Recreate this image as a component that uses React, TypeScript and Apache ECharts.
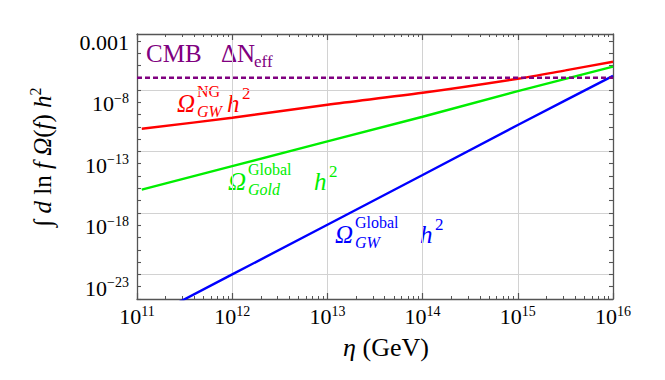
import React, { useEffect, useRef } from "react";
import * as echarts from "echarts";

const FONT = '"Liberation Serif", "Times New Roman", serif';

// axis ranges, in log10 units
const xRange = [11, 16]; // log10(eta / GeV)
const yRange = [-24, -2.45]; // log10(integral of Omega h^2)

const xMajorTicks = [11, 12, 13, 14, 15, 16];
const xMinorMultipliers = [2, 3, 4, 5, 6, 7, 8, 9];
const xGridValues = [12, 13, 14, 15];
const yLabelValues = [-23, -18, -13, -8, -3];
const yTickValues = [-24, -23, -22, -21, -20, -19, -18, -17, -16, -15, -14, -13, -12, -11, -10, -9, -8, -7, -6, -5, -4, -3];
const yGridValues = [-22, -17, -12, -7];

// curves (log10 values)
const logEta = [11.05, 12, 13, 14, 15, 15.5, 16];
const omegaNG = [-10.15, -9.26, -8.2, -7.23, -6.09, -5.41, -4.71];
const omegaGoldGlobal = [-15.11, -13.2, -11.18, -9.18, -7.1, -6.1, -5.11];
const omegaGWGlobal = [-25.84, -22.0, -17.96, -13.92, -9.85, -7.85, -5.85];
const cmbLogEta = [11, 16];
const cmbBound = [-6.0, -6.0];

const RED = "#ff0000";
const GREEN = "#00ee00";
const BLUE = "#0000ff";
const PURPLE = "#800080";
const FRAME = "#555555";
const GRID = "#d2d2d2";

const xMinorTicks: number[] = [];
for (let d = xRange[0]; d < xRange[1]; d++) {
  for (const m of xMinorMultipliers) xMinorTicks.push(d + Math.log10(m));
}

const zip = (xs: number[], ys: number[]) => xs.map((x, i) => [x, ys[i]]);

const tickRich = {
  b: { fontSize: 22, fontFamily: FONT, color: "#000", lineHeight: 22, padding: [3, 0, 0, 0] },
  s: { fontSize: 14, fontFamily: FONT, color: "#000", lineHeight: 14, verticalAlign: "top" },
};

function txt(text: string, x: number, baseline: number, size: number, color: string, italic = false) {
  return {
    type: "text",
    x,
    y: baseline - 0.34 * size,
    silent: true,
    style: {
      text,
      fill: color,
      fontSize: size,
      fontFamily: FONT,
      fontStyle: italic ? "italic" : "normal",
      lineHeight: size,
      align: "left",
      verticalAlign: "middle",
    },
  };
}

function omegaLabel(
  x: number, B: number, sup: string, sub: string, scriptX: number, hX: number, color: string
) {
  return [
    txt("Ω", x, B, 25, color, true),
    txt(sup, scriptX, B - 15, 16, color),
    txt(sub, scriptX, B + 5, 16, color, true),
    txt("h", hX, B, 25, color, true),
    txt("2", hX + 15, B - 13, 17, color),
  ];
}

function xAxisBase(position: string) {
  return {
    type: "value",
    min: xRange[0],
    max: xRange[1],
    position,
    axisLine: { show: false },
    axisTick: { show: false },
    axisLabel: { show: false },
    splitLine: { show: false },
  };
}

function yAxisBase(position: string) {
  return {
    type: "value",
    min: yRange[0],
    max: yRange[1],
    position,
    axisLine: { show: false },
    axisTick: { show: false },
    axisLabel: { show: false },
    splitLine: { show: false },
  };
}

export default function App() {
  const ref = useRef<HTMLDivElement>(null);
  useEffect(() => {
    if (!ref.current) return;
    const chart = echarts.init(ref.current, null, { renderer: "svg" });
    const frameLine = { show: true, lineStyle: { color: FRAME, width: 1.3 } };
    const option: any = {
      animation: false,
      grid: { left: 137, right: 52, top: 34, bottom: 81, containLabel: false },
      xAxis: [
        {
          ...xAxisBase("bottom"),
          axisLine: frameLine,
          axisTick: { show: true, inside: true, length: 6, customValues: xMajorTicks, lineStyle: { color: FRAME, width: 1.2 } },
          axisLabel: {
            show: true,
            customValues: xMajorTicks,
            margin: 5,
            formatter: (v: number) => `{b|10}{s|${Math.round(v)}}`,
            rich: tickRich,
          },
        },
        {
          ...xAxisBase("bottom"),
          axisTick: { show: true, inside: true, length: 3, customValues: xMinorTicks, lineStyle: { color: FRAME, width: 1 } },
        },
        {
          ...xAxisBase("top"),
          axisLine: frameLine,
          axisTick: { show: true, inside: true, length: 6, customValues: xMajorTicks, lineStyle: { color: FRAME, width: 1.2 } },
        },
        {
          ...xAxisBase("top"),
          axisTick: { show: true, inside: true, length: 3, customValues: xMinorTicks, lineStyle: { color: FRAME, width: 1 } },
        },
        {
          ...xAxisBase("bottom"),
          axisTick: { show: false, customValues: xGridValues },
          splitLine: { show: true, lineStyle: { color: GRID, width: 1 } },
        },
      ],
      yAxis: [
        {
          ...yAxisBase("left"),
          axisLine: frameLine,
          axisTick: { show: true, inside: true, length: 4, customValues: yTickValues, lineStyle: { color: FRAME, width: 1.1 } },
          axisLabel: {
            show: true,
            customValues: yLabelValues,
            margin: 8,
            formatter: (v: number) => (Math.round(v) === -3 ? "{b|0.001}" : `{b|10}{s|\u2212${Math.round(-v)}}`),
            rich: tickRich,
          },
        },
        {
          ...yAxisBase("right"),
          axisLine: frameLine,
          axisTick: { show: true, inside: true, length: 4, customValues: yTickValues, lineStyle: { color: FRAME, width: 1.1 } },
        },
        {
          ...yAxisBase("left"),
          axisTick: { show: false, customValues: yGridValues },
          splitLine: { show: true, lineStyle: { color: GRID, width: 1 } },
        },
      ],
      series: [
        {
          type: "line",
          name: "CMB",
          data: zip(cmbLogEta, cmbBound),
          showSymbol: false,
          lineStyle: { color: PURPLE, width: 2.5, type: [5, 3] },
          z: 5,
        },
        {
          type: "line",
          name: "NG",
          data: zip(logEta, omegaNG),
          showSymbol: false,
          smooth: 0.3,
          lineStyle: { color: RED, width: 2.4 },
          z: 4,
        },
        {
          type: "line",
          name: "Gold",
          data: zip(logEta, omegaGoldGlobal),
          showSymbol: false,
          lineStyle: { color: GREEN, width: 2.4 },
          z: 4,
        },
        {
          type: "line",
          name: "GW",
          data: zip(logEta, omegaGWGlobal),
          showSymbol: false,
          clip: true,
          lineStyle: { color: BLUE, width: 2.4 },
          z: 4,
        },
      ],
      graphic: [
        txt("CMB", 146, 62, 25, PURPLE),
        txt("ΔN", 221, 62, 25, PURPLE),
        txt("eff", 254, 67, 17, PURPLE),
        ...omegaLabel(177, 112, "NG", "GW", 197, 227, RED),
        ...omegaLabel(228, 190, "Global", "Gold", 248, 314, GREEN),
        ...omegaLabel(335, 243, "Global", "GW", 355, 420, BLUE),
        {
          type: "text",
          x: 386,
          y: 347,
          silent: true,
          style: {
            text: "{i|η} (GeV)",
            fill: "#000",
            fontSize: 26,
            fontFamily: FONT,
            align: "center",
            verticalAlign: "middle",
            rich: { i: { fontSize: 26, fontFamily: FONT, fontStyle: "italic" } },
          },
        },
        {
          type: "text",
          x: 40,
          y: 157,
          rotation: Math.PI / 2,
          silent: true,
          style: {
            text: "{i|∫}{r| }{i|d}{r| ln }{i|f}{r| }{i|Ω}{r|(}{i|f}{r|) }{i|h}{s|2}",
            fill: "#000",
            align: "center",
            verticalAlign: "middle",
            rich: {
              i: { fontSize: 25, fontFamily: FONT, fontStyle: "italic", lineHeight: 26, padding: [4, 0, 0, 0] },
              r: { fontSize: 25, fontFamily: FONT, lineHeight: 26, padding: [4, 0, 0, 0] },
              s: { fontSize: 16, fontFamily: FONT, lineHeight: 16, verticalAlign: "top" },
            },
          },
        },
      ],
    };
    chart.setOption(option);
    return () => chart.dispose();
  }, []);
  return (
    <div
      ref={ref}
      style={{ position: "fixed", left: 0, top: 0, width: 665, height: 380, background: "#fff" }}
    />
  );
}
